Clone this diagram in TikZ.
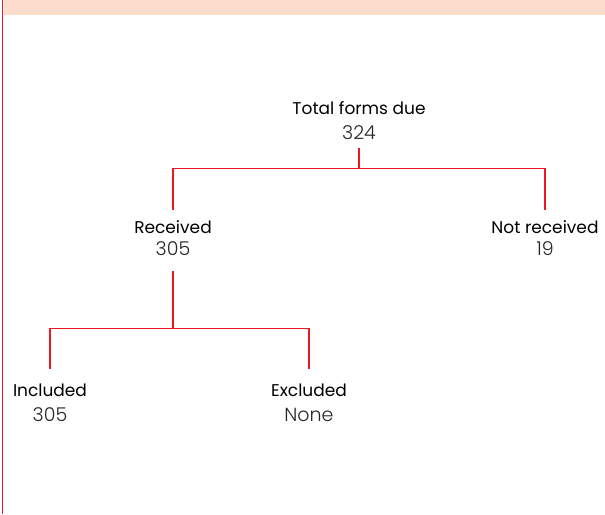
\documentclass[tikz,border=0pt]{standalone}
\usepackage{fontspec}
\setmainfont{Poppins}
\newfontfamily\numfont{Poppins Light}
\usepackage{tikz}
\usetikzlibrary{positioning}
\definecolor{rulered}{RGB}{238,24,36}
\definecolor{bandpeach}{RGB}{253,220,204}

\begin{document}
\begin{tikzpicture}
[x=1pt,y=-1pt]
\tikzset{
	head/.style = {anchor=base, inner sep=0, font=\fontsize{17}{20}\selectfont},
	count/.style = {anchor=base, inner sep=0, font=\fontsize{19}{22}\selectfont\numfont, text=black!85},
	link/.style = {draw=rulered, line width=1.2pt}
}

\useasboundingbox (0,0) rectangle (605,514);
\fill[bandpeach] (3.5,0) rectangle (605,15);
\draw[rulered, line width=1.2pt] (2.5,0) -- (2.5,514);

\node[head] (tot) at (359,114) {Total forms due};
\node[count] (totn) at (359,139) {324};
\node[head] (rec) at (173,233) {Received};
\node[count] (recn) at (173,255) {305};
\node[head] (notrec) at (545,233) {Not received};
\node[count] (notrecn) at (545,255) {19};
\node[head] (inc) at (50,396) {Included};
\node[count] (incn) at (50,421) {305};
\node[head] (exc) at (309,396) {Excluded};
\node[count] (excn) at (309,421) {None};

\draw[link] ([yshift=-9pt]totn.south) -- ++(0,20.5) -| ([yshift=9.5pt]rec.north);
\draw[link] ([yshift=-9pt]totn.south) -- ++(0,20.5) -| ([yshift=9.5pt]notrec.north);
\draw[link] ([yshift=-15.5pt]recn.south) -- ++(0,57.5) -| ([yshift=14pt]inc.north);
\draw[link] ([yshift=-15.5pt]recn.south) -- ++(0,57.5) -| ([yshift=14pt]exc.north);
\end{tikzpicture}
\end{document}
